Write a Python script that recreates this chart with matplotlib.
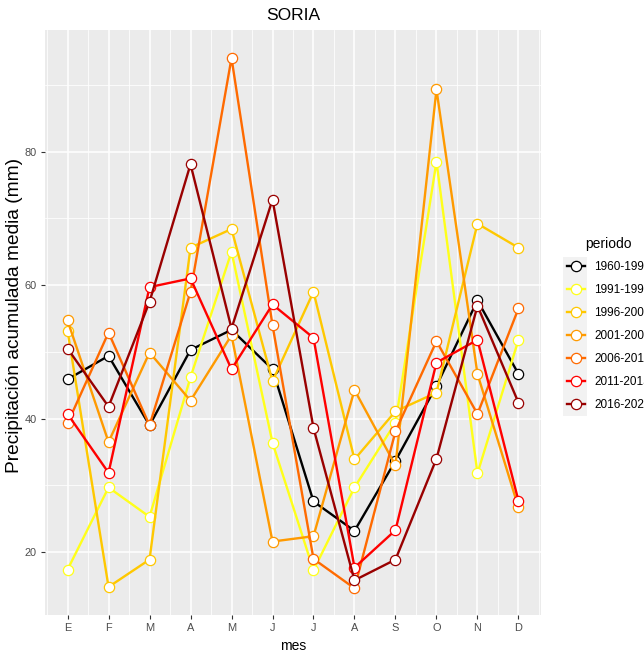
import matplotlib
matplotlib.use("Agg")
import matplotlib.pyplot as plt
from matplotlib.patches import Rectangle
from matplotlib.ticker import MultipleLocator

plt.rcParams['font.family'] = ['Liberation Sans', 'DejaVu Sans']

meses = ["E", "F", "M", "A", "M", "J", "J", "A", "S", "O", "N", "D"]
periodos = ["1960-1990", "1991-1995", "1996-2000", "2001-2005",
            "2006-2010", "2011-2015", "2016-2020"]
colores = ["#000000", "#FFFF1A", "#FFC800", "#FF9A00", "#FF6A00", "#FF0000", "#990000"]

p_1960_1990 = [45.9, 49.4, 39.0, 50.3, 53.3, 47.4, 27.6, 23.2, 33.7, 44.9, 57.7, 46.7]
p_1991_1995 = [17.4, 29.7, 25.3, 46.2, 65.0, 36.4, 17.3, 29.7, 39.4, 78.5, 31.8, 51.8]
p_1996_2000 = [53.2, 14.8, 18.9, 65.6, 68.4, 45.6, 59.0, 33.9, 41.1, 43.9, 69.2, 65.6]
p_2001_2005 = [54.7, 36.5, 49.9, 42.7, 52.5, 21.6, 22.4, 44.3, 33.0, 89.3, 46.7, 26.7]
p_2006_2010 = [39.3, 52.9, 39.0, 59.0, 94.0, 54.0, 19.0, 14.6, 38.1, 51.6, 40.7, 56.5]
p_2011_2015 = [40.7, 31.9, 59.7, 61.0, 47.4, 57.1, 52.1, 17.7, 23.3, 48.4, 51.8, 27.7]
p_2016_2020 = [50.5, 41.8, 57.5, 78.1, 53.5, 72.8, 38.6, 15.8, 18.9, 34.0, 56.9, 42.4]

series = [p_1960_1990, p_1991_1995, p_1996_2000, p_2001_2005,
          p_2006_2010, p_2011_2015, p_2016_2020]

W, H = 644, 653
fig = plt.figure(figsize=(W / 100, H / 100), dpi=100)
ax = fig.add_axes([45 / W, 1 - 615 / H, (541 - 45) / W, (615 - 30) / H])
ax.set_facecolor("#EBEBEB")

x = list(range(1, 13))
handles = []
for vals, col, lab in zip(series, colores, periodos):
    h, = ax.plot(x, vals, color=col, lw=1.7, marker="o", ms=7.4,
                 markerfacecolor="white", markeredgecolor=col, markeredgewidth=0.9,
                 label=lab, zorder=3)
    handles.append(h)

ax.set_xlim(0.45, 12.55)
ax.set_ylim(10.6, 98.2)
ax.set_xticks(x)
ax.set_xticklabels(meses)
ax.set_yticks([20, 40, 60, 80])
ax.xaxis.set_minor_locator(MultipleLocator(0.5))
ax.yaxis.set_minor_locator(MultipleLocator(10))
ax.grid(which="major", color="white", lw=1.1, zorder=0)
ax.grid(which="minor", color="white", lw=0.55, zorder=0)
ax.set_axisbelow(True)
for s in ax.spines.values():
    s.set_visible(False)
ax.tick_params(which="major", length=3, color="#333333", labelcolor="#4D4D4D",
               labelsize=7.9, width=0.8, pad=3)
ax.tick_params(which="minor", length=0)

ax.set_title("SORIA", fontsize=12.5, pad=7)
ax.set_xlabel("mes", fontsize=10, labelpad=4)
ax.set_ylabel("Precipitación acumulada media (mm)", fontsize=13.8,
              va="center", ha="center")
ax.yaxis.set_label_coords((15 - 45) / 496, (615 - 315) / 585)

# legend key background
fig.patches.append(Rectangle((562.5 / W, 1 - 416 / H), 24 / W, 159 / H,
                             transform=fig.transFigure, facecolor="#F2F2F2",
                             edgecolor="none", zorder=0))
leg = fig.legend(handles=handles, loc="upper left",
                 bbox_to_anchor=(556 / W, 1 - 226 / H), frameon=False,
                 title="periodo", title_fontsize=10, fontsize=8.5,
                 handlelength=1.55, handletextpad=0.8, labelspacing=0.92,
                 alignment="center", markerscale=1.0)

fig.savefig("out.png", dpi=100)
